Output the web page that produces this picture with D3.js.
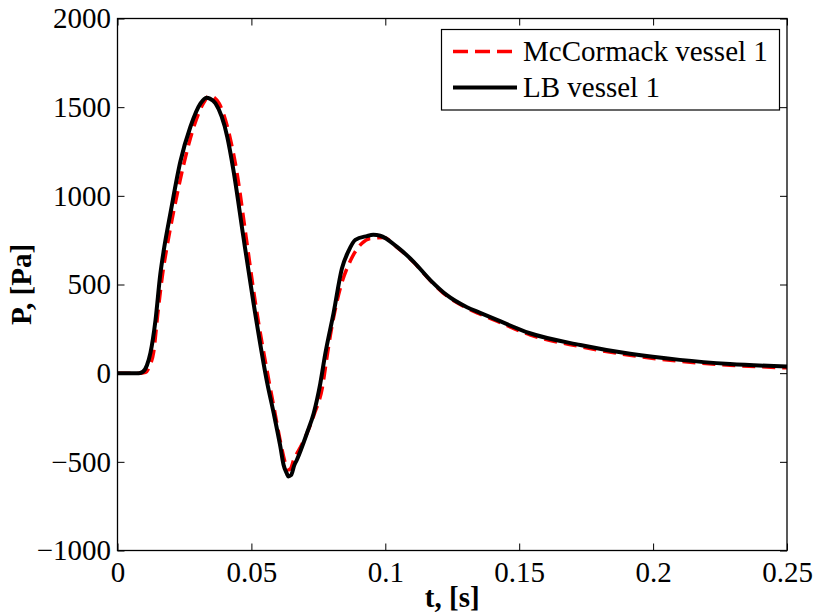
<!DOCTYPE html>
<html>
<head>
<meta charset="utf-8">
<script src="https://cdn.jsdelivr.net/npm/d3@7"></script>
<style>
  body { margin: 0; background: #fff; }
  svg { display: block; }
  text { font-family: "Liberation Serif", "Times New Roman", serif; fill: #000; }
</style>
</head>
<body>
<div id="chart-area"></div>
<script>
// LB vessel 1 (black solid)
const timeLB = [0, 0.005, 0.008, 0.0095, 0.011, 0.0123, 0.0142, 0.016, 0.0173, 0.0198,
  0.0235, 0.0272, 0.031, 0.0332, 0.0345, 0.0366, 0.041, 0.0433, 0.047, 0.0508,
  0.0559, 0.0583, 0.0608, 0.062, 0.0632, 0.0638, 0.0648, 0.066, 0.067, 0.0708,
  0.0733, 0.0757, 0.0776, 0.0807, 0.0838, 0.0863, 0.0888, 0.0931, 0.0955, 0.0981,
  0.1044, 0.1106, 0.1168, 0.123, 0.1305, 0.1354, 0.1417, 0.154, 0.1728, 0.1914,
  0.21, 0.2287, 0.25];
const pressureLB = [0, 0, 0, 8, 45, 114, 300, 560, 695, 905,
  1195, 1388, 1521, 1553, 1548, 1521, 1332, 1144, 769, 395,
  -55, -224, -413, -516, -565, -582, -575, -520, -488, -336,
  -224, -60, 110, 340, 590, 690, 752, 773, 780, 775,
  712, 628, 525, 440, 372, 340, 300, 225, 159, 109,
  75, 52, 37];

// McCormack vessel 1 (red dashed)
const timeMC = [0, 0.005, 0.008, 0.0105, 0.012, 0.0135, 0.015, 0.0168, 0.0185, 0.021,
  0.025, 0.0285, 0.032, 0.0345, 0.036, 0.038, 0.042, 0.0445, 0.048, 0.0515,
  0.056, 0.0585, 0.061, 0.0625, 0.0635, 0.0645, 0.066, 0.0675, 0.071, 0.0735,
  0.0765, 0.0782, 0.0795, 0.0832, 0.087, 0.0913, 0.0944, 0.0993, 0.1044, 0.1106,
  0.1168, 0.123, 0.1305, 0.1354, 0.1417, 0.154, 0.1728, 0.1914, 0.21, 0.2287,
  0.25];
const pressureMC = [0, 0, 0, 5, 40, 120, 330, 555, 715, 915,
  1195, 1390, 1520, 1566, 1555, 1520, 1330, 1140, 770, 395,
  0, -200, -400, -500, -545, -540, -480, -440, -330, -230,
  -80, 90, 215, 480, 635, 733, 760, 765, 710, 625,
  522, 435, 367, 333, 293, 216, 150, 101, 67, 45,
  30];

const xTicks = [0, 0.05, 0.1, 0.15, 0.2, 0.25];
const xTickLabels = ["0", "0.05", "0.1", "0.15", "0.2", "0.25"];
const yTicks = [-1000, -500, 0, 500, 1000, 1500, 2000];
const yTickLabels = ["\u22121000", "\u2212500", "0", "500", "1000", "1500", "2000"];

const seriesNames = ["McCormack vessel 1", "LB vessel 1"];

let w = 813;
let h = 616;
let plotLeft = 117.5;
let plotRight = 787;
let plotTop = 18.5;
let plotBottom = 550.5;

let svg = d3.select("#chart-area")
  .append("svg")
  .attr("width", w)
  .attr("height", h);

let xScale = d3.scaleLinear().domain([0, 0.25]).range([plotLeft, plotRight]);
let yScale = d3.scaleLinear().domain([-1000, 2000]).range([plotBottom, plotTop]);

// curves
let line = d3.line()
  .x(d => xScale(d[0]))
  .y(d => yScale(d[1]))
  .curve(d3.curveMonotoneX);

let mcData = timeMC.map((t, i) => [t, pressureMC[i]]);
let lbData = timeLB.map((t, i) => [t, pressureLB[i]]);

svg.append("path")
  .datum(mcData)
  .attr("d", line)
  .attr("fill", "none")
  .attr("stroke", "#ff0000")
  .attr("stroke-width", 3.5)
  .attr("stroke-dasharray", "13,7");

svg.append("path")
  .datum(lbData)
  .attr("d", line)
  .attr("fill", "none")
  .attr("stroke", "#000")
  .attr("stroke-width", 4)
  .attr("stroke-linejoin", "round");

// axes, ticks point inwards on all four sides
let fontSize = 29;

let xAxis = d3.axisBottom(xScale)
  .tickValues(xTicks)
  .tickFormat((d, i) => xTickLabels[i])
  .tickSize(-7)
  .tickPadding(11);
let xTop = d3.axisTop(xScale).tickValues(xTicks).tickFormat("").tickSize(-7);
let yAxis = d3.axisLeft(yScale)
  .tickValues(yTicks)
  .tickFormat((d, i) => yTickLabels[i])
  .tickSize(-7)
  .tickPadding(6.5);
let yRight = d3.axisRight(yScale).tickValues(yTicks).tickFormat("").tickSize(-7);

let gx = svg.append("g").attr("transform", "translate(0," + plotBottom + ")").call(xAxis);
let gxt = svg.append("g").attr("transform", "translate(0," + plotTop + ")").call(xTop);
let gy = svg.append("g").attr("transform", "translate(" + plotLeft + ",0)").call(yAxis);
let gyr = svg.append("g").attr("transform", "translate(" + plotRight + ",0)").call(yRight);

[gx, gxt, gy, gyr].forEach(g => {
  g.select(".domain").remove();
  g.selectAll("line").attr("stroke", "#000").attr("stroke-width", 1);
  g.selectAll("text")
    .style("font-family", "'Liberation Serif', 'Times New Roman', serif")
    .style("font-size", fontSize + "px")
    .attr("fill", "#000");
});

svg.append("rect")
  .attr("x", plotLeft)
  .attr("y", plotTop)
  .attr("width", plotRight - plotLeft)
  .attr("height", plotBottom - plotTop)
  .attr("fill", "none")
  .attr("stroke", "#000")
  .attr("stroke-width", 1.3);

// axis titles
svg.append("text")
  .attr("x", (plotLeft + plotRight) / 2)
  .attr("y", 607)
  .attr("text-anchor", "middle")
  .style("font-size", fontSize + "px")
  .style("font-weight", "bold")
  .text("t, [s]");

svg.append("text")
  .attr("transform", "translate(31," + (plotTop + plotBottom) / 2 + ") rotate(-90)")
  .attr("text-anchor", "middle")
  .style("font-size", fontSize + "px")
  .style("font-weight", "bold")
  .text("P, [Pa]");

// legend
let legend = svg.append("g");
legend.append("rect")
  .attr("x", 441.5)
  .attr("y", 29.5)
  .attr("width", 338)
  .attr("height", 80.5)
  .attr("fill", "#fff")
  .attr("stroke", "#000")
  .attr("stroke-width", 1.2);

let legendRows = [
  { y: 51.5, color: "#ff0000", dash: "15,7", width: 3.5 },
  { y: 87.5, color: "#000", dash: null, width: 4 }
];

legendRows.forEach((r, i) => {
  legend.append("line")
    .attr("x1", 453).attr("x2", 517)
    .attr("y1", r.y).attr("y2", r.y)
    .attr("stroke", r.color)
    .attr("stroke-width", r.width)
    .attr("stroke-dasharray", r.dash);
  legend.append("text")
    .attr("x", 523)
    .attr("y", r.y + 9.5)
    .style("font-size", fontSize + "px")
    .text(seriesNames[i]);
});
</script>
</body>
</html>
